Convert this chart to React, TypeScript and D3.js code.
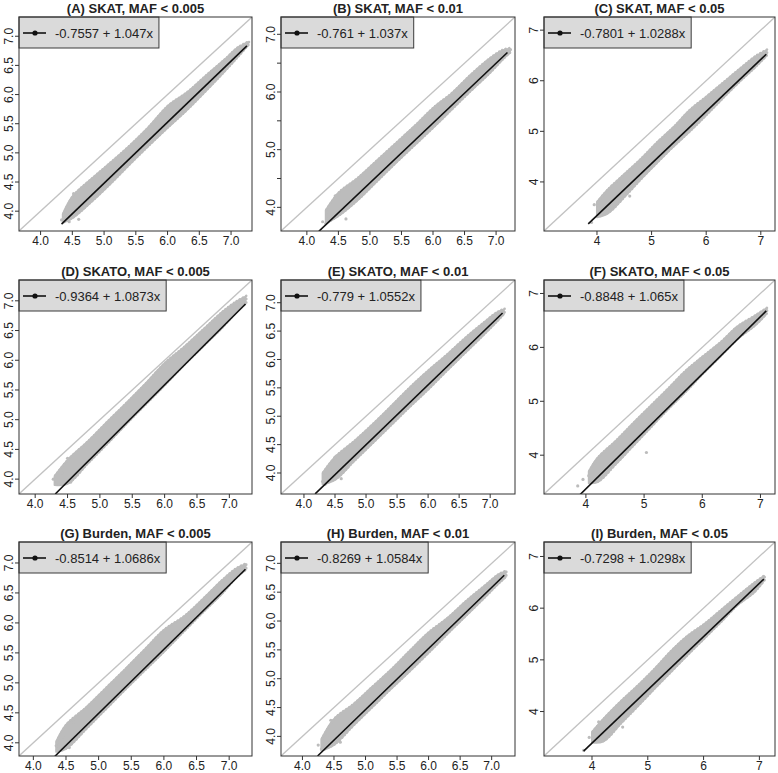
import React from "react";
import * as d3 from "d3";

// ---------- data ----------
const panelTitles = [
  "(A) SKAT, MAF < 0.005",
  "(B) SKAT, MAF < 0.01",
  "(C) SKAT, MAF < 0.05",
  "(D) SKATO, MAF < 0.005",
  "(E) SKATO, MAF < 0.01",
  "(F) SKATO, MAF < 0.05",
  "(G) Burden, MAF < 0.005",
  "(H) Burden, MAF < 0.01",
  "(I) Burden, MAF < 0.05",
];
const legendLabels = [
  "-0.7557 + 1.047x",
  "-0.761 + 1.037x",
  "-0.7801 + 1.0288x",
  "-0.9364 + 1.0873x",
  "-0.779 + 1.0552x",
  "-0.8848 + 1.065x",
  "-0.8514 + 1.0686x",
  "-0.8269 + 1.0584x",
  "-0.7298 + 1.0298x",
];
const intercepts = [-0.7557, -0.761, -0.7801, -0.9364, -0.779, -0.8848, -0.8514, -0.8269, -0.7298];
const slopes = [1.047, 1.037, 1.0288, 1.0873, 1.0552, 1.065, 1.0686, 1.0584, 1.0298];
const fitStart = [4.33, 4.19, 3.84, 4.31, 4.18, 3.9, 4.33, 4.24, 3.85];
const fitEnd = [7.25, 7.18, 7.1, 7.25, 7.2, 7.1, 7.25, 7.2, 7.08];
const axisMin = [3.66, 3.59, 3.03, 3.75, 3.63, 3.28, 3.78, 3.66, 3.14];
const axisMax = [7.33, 7.3, 7.26, 7.35, 7.4, 7.25, 7.35, 7.37, 7.28];

const halfTicks = [4.0, 4.5, 5.0, 5.5, 6.0, 6.5, 7.0];
const unitTicks = [4, 5, 6, 7];
const xTickSets = [halfTicks, halfTicks, unitTicks, halfTicks, halfTicks, unitTicks, halfTicks, halfTicks, unitTicks];
const yTickSets = [halfTicks, halfTicks, unitTicks, halfTicks, halfTicks, unitTicks, halfTicks, halfTicks, unitTicks];
const yLabelSets = [
  ["4.0", "4.5", "5.0", "5.5", "6.0", "6.5", "7.0"],
  ["4.0", "", "5.0", "", "6.0", "", "7.0"],
  ["4", "5", "6", "7"],
  ["4.0", "4.5", "5.0", "5.5", "6.0", "6.5", "7.0"],
  ["4.0", "4.5", "5.0", "5.5", "6.0", "6.5", "7.0"],
  ["4", "5", "6", "7"],
  ["4.0", "4.5", "5.0", "5.5", "6.0", "6.5", "7.0"],
  ["4.0", "4.5", "5.0", "5.5", "6.0", "6.5", "7.0"],
  ["4", "5", "6", "7"],
];
const xLabelSets = [
  ["4.0", "4.5", "5.0", "5.5", "6.0", "6.5", "7.0"],
  ["4.0", "4.5", "5.0", "5.5", "6.0", "6.5", "7.0"],
  ["4", "5", "6", "7"],
  ["4.0", "4.5", "5.0", "5.5", "6.0", "6.5", "7.0"],
  ["4.0", "4.5", "5.0", "5.5", "6.0", "6.5", "7.0"],
  ["4", "5", "6", "7"],
  ["4.0", "4.5", "5.0", "5.5", "6.0", "6.5", "7.0"],
  ["4.0", "4.5", "5.0", "5.5", "6.0", "6.5", "7.0"],
  ["4", "5", "6", "7"],
];

// point cloud envelope (x, lower edge, upper edge)
const bandX = [
  [4.35, 4.5, 4.8, 5.1, 5.4, 5.7, 6.0, 6.3, 6.6, 6.9, 7.1, 7.27],
  [4.3, 4.5, 4.8, 5.1, 5.4, 5.7, 6.0, 6.3, 6.6, 6.9, 7.1, 7.22],
  [4.0, 4.2, 4.5, 4.8, 5.1, 5.4, 5.7, 6.0, 6.3, 6.6, 6.9, 7.1],
  [4.3, 4.5, 4.8, 5.1, 5.4, 5.7, 6.0, 6.3, 6.6, 6.9, 7.1, 7.25],
  [4.3, 4.5, 4.8, 5.1, 5.4, 5.7, 6.0, 6.3, 6.6, 6.9, 7.1, 7.22],
  [4.05, 4.2, 4.5, 4.8, 5.1, 5.4, 5.7, 6.0, 6.3, 6.6, 6.9, 7.1],
  [4.35, 4.5, 4.8, 5.1, 5.4, 5.7, 6.0, 6.3, 6.6, 6.9, 7.1, 7.25],
  [4.3, 4.5, 4.8, 5.1, 5.4, 5.7, 6.0, 6.3, 6.6, 6.9, 7.1, 7.22],
  [4.0, 4.2, 4.5, 4.8, 5.1, 5.4, 5.7, 6.0, 6.3, 6.6, 6.9, 7.08],
];
const bandHi = [
  [3.95, 4.25, 4.55, 4.83, 5.12, 5.44, 5.8, 6.03, 6.32, 6.6, 6.8, 6.9],
  [3.95, 4.25, 4.5, 4.8, 5.1, 5.4, 5.72, 5.98, 6.3, 6.58, 6.72, 6.75],
  [3.6, 3.85, 4.15, 4.45, 4.78, 5.08, 5.42, 5.68, 5.95, 6.22, 6.48, 6.6],
  [4.05, 4.32, 4.62, 4.95, 5.27, 5.6, 5.95, 6.22, 6.52, 6.82, 6.98, 7.07],
  [4.0, 4.28, 4.55, 4.85, 5.17, 5.5, 5.8, 6.08, 6.38, 6.65, 6.82, 6.88],
  [3.7, 3.95, 4.25, 4.58, 4.9, 5.22, 5.55, 5.82, 6.08, 6.38, 6.58, 6.72],
  [4.02, 4.3, 4.58, 4.9, 5.22, 5.55, 5.88, 6.1, 6.4, 6.72, 6.9, 6.98],
  [3.95, 4.3, 4.55, 4.85, 5.15, 5.48, 5.8, 6.05, 6.35, 6.62, 6.8, 6.86],
  [3.6, 3.85, 4.18, 4.48, 4.8, 5.15, 5.45, 5.68, 5.95, 6.22, 6.48, 6.62],
];
const bandLo = [
  [3.8, 3.88, 4.16, 4.47, 4.8, 5.12, 5.43, 5.73, 6.06, 6.4, 6.64, 6.85],
  [3.72, 3.85, 4.12, 4.44, 4.76, 5.07, 5.38, 5.7, 6.02, 6.33, 6.56, 6.68],
  [3.3, 3.38, 3.7, 4.05, 4.38, 4.7, 5.0, 5.32, 5.65, 5.97, 6.27, 6.49],
  [3.9, 3.92, 4.25, 4.58, 4.92, 5.25, 5.58, 5.92, 6.24, 6.56, 6.8, 6.95],
  [3.8, 3.88, 4.2, 4.52, 4.84, 5.16, 5.47, 5.8, 6.12, 6.44, 6.66, 6.8],
  [3.48, 3.5, 3.82, 4.16, 4.5, 4.84, 5.16, 5.5, 5.82, 6.15, 6.4, 6.62],
  [3.85, 3.9, 4.22, 4.55, 4.88, 5.2, 5.52, 5.85, 6.18, 6.5, 6.75, 6.88],
  [3.75, 3.85, 4.18, 4.5, 4.82, 5.13, 5.45, 5.78, 6.1, 6.42, 6.64, 6.76],
  [3.4, 3.42, 3.75, 4.08, 4.42, 4.75, 5.08, 5.4, 5.72, 6.05, 6.3, 6.53],
];
// isolated points at the sparse low end of each cloud
const strayX = [
  [4.33, 4.38, 4.45, 4.6, 4.52],
  [4.25, 4.3, 4.36, 4.45, 4.62],
  [3.9, 3.95, 4.05, 4.1, 4.6],
  [4.28, 4.33, 4.42, 4.55, 4.5],
  [4.3, 4.34, 4.42, 4.5, 4.6],
  [3.86, 3.95, 4.05, 4.15, 5.04],
  [4.35, 4.4, 4.45, 4.55, 4.62],
  [4.25, 4.3, 4.38, 4.45, 4.6],
  [3.85, 3.95, 4.05, 4.12, 4.55],
];
const strayY = [
  [3.85, 3.93, 3.82, 3.86, 4.3],
  [3.75, 3.72, 4.0, 4.2, 3.8],
  [3.2, 3.55, 3.45, 3.72, 3.72],
  [4.0, 3.95, 4.1, 3.95, 4.35],
  [3.85, 3.8, 4.05, 4.28, 3.9],
  [3.43, 3.55, 3.62, 3.85, 4.05],
  [3.95, 3.88, 4.1, 3.92, 4.35],
  [3.85, 3.78, 4.0, 4.28, 3.9],
  [3.25, 3.5, 3.62, 3.8, 3.7],
];

// ---------- layout ----------
const W = 778;
const H = 773;
const colLeft = [19, 281, 544];
const colRight = [252, 515, 775];
const rowTop = [17, 280, 542];
const rowBottom = [231, 494, 756];
const FONT = "'Liberation Sans', Arial, Helvetica, sans-serif";
const cloudColor = "#bcbcbc";
const diagColor = "#c2c2c2";
const inkColor = "#222";

function measure(text: string, size: number): number {
  try {
    const c = document.createElement("canvas");
    const ctx = c.getContext("2d");
    if (ctx) {
      ctx.font = `${size}px 'Liberation Sans', Arial, sans-serif`;
      return ctx.measureText(text).width;
    }
  } catch (e) {}
  return text.length * size * 0.55;
}

function Panel({ i }: { i: number }) {
  const col = i % 3;
  const row = Math.floor(i / 3);
  const left = colLeft[col];
  const right = colRight[col];
  const top = rowTop[row];
  const bottom = rowBottom[row];
  const x = d3.scaleLinear().domain([axisMin[i], axisMax[i]]).range([left, right]);
  const y = d3.scaleLinear().domain([axisMin[i], axisMax[i]]).range([bottom, top]);
  const clipId = `clip${i}`;

  const band = bandX[i].map((bx, k) => ({ x: bx, lo: bandLo[i][k], hi: bandHi[i][k] }));
  const area = d3
    .area<{ x: number; lo: number; hi: number }>()
    .x((d) => x(d.x))
    .y0((d) => y(d.lo))
    .y1((d) => y(d.hi))
    .curve(d3.curveCatmullRom.alpha(0.5));
  const areaPath = area(band) || "";

  const fit = (v: number) => intercepts[i] + slopes[i] * v;
  const fitLine = d3.line<number>().x((v) => x(v)).y((v) => y(fit(v)))([fitStart[i], fitEnd[i]]) || "";
  const diag = d3.line<number>().x((v) => x(v)).y((v) => y(v))([axisMin[i], axisMax[i]]) || "";

  const label = legendLabels[i];
  const tw = measure(label, 13);
  const legW = 36 + tw + 6;
  const legH = 31;

  return (
    <g>
      <defs>
        <clipPath id={clipId}>
          <rect x={left} y={top} width={right - left} height={bottom - top} />
        </clipPath>
      </defs>
      <text
        x={(left + right) / 2}
        y={top - 4.5}
        textAnchor="middle"
        fontFamily={FONT}
        fontWeight="bold"
        fontSize={13}
        fill={inkColor}
      >
        {panelTitles[i]}
      </text>
      <g clipPath={`url(#${clipId})`}>
        <path d={areaPath} fill={cloudColor} stroke={cloudColor} strokeWidth={2} strokeLinejoin="round" />
        <path
          d={areaPath}
          fill="none"
          stroke={cloudColor}
          strokeWidth={2.6}
          strokeDasharray="0.1 3.4"
          strokeLinecap="round"
          transform="translate(0.8,-0.8)"
        />
        {strayX[i].map((sx, k) => (
          <circle key={k} cx={x(sx)} cy={y(strayY[i][k])} r={1.6} fill={cloudColor} />
        ))}
        <path d={diag} stroke={diagColor} strokeWidth={1.3} fill="none" />
        <path d={fitLine} stroke="#111" strokeWidth={1.6} fill="none" />
      </g>
      {/* legend */}
      <rect x={left} y={top} width={legW} height={legH} fill="#dadada" stroke="#3a3a3a" strokeWidth={1} />
      <line x1={left + 4} x2={left + 27} y1={top + 16} y2={top + 16} stroke="#111" strokeWidth={1.6} />
      <circle cx={left + 16} cy={top + 16} r={2.6} fill="#111" />
      <text x={left + 36} y={top + 20.5} fontFamily={FONT} fontSize={13} fill={inkColor}>
        {label}
      </text>
      {/* box */}
      <rect x={left} y={top} width={right - left} height={bottom - top} fill="none" stroke="#333" strokeWidth={1} />
      {/* x axis */}
      {xTickSets[i].map((t, k) => (
        <g key={`xt${k}`}>
          <line x1={x(t)} x2={x(t)} y1={bottom} y2={bottom + 4} stroke="#333" />
          <text x={x(t)} y={bottom + 14} textAnchor="middle" fontFamily={FONT} fontSize={12} fill={inkColor}>
            {xLabelSets[i][k]}
          </text>
        </g>
      ))}
      {/* y axis */}
      {yTickSets[i].map((t, k) => (
        <g key={`yt${k}`}>
          <line x1={left - 4} x2={left} y1={y(t)} y2={y(t)} stroke="#333" />
          {yLabelSets[i][k] ? (
            <text
              transform={`translate(${left - 6},${y(t)}) rotate(-90)`}
              textAnchor="middle"
              fontFamily={FONT}
              fontSize={12}
              fill={inkColor}
            >
              {yLabelSets[i][k]}
            </text>
          ) : null}
        </g>
      ))}
    </g>
  );
}

export default function App() {
  return (
    <svg
      width={W}
      height={H}
      viewBox={`0 0 ${W} ${H}`}
      style={{ position: "absolute", left: 0, top: 0, background: "#fff" }}
    >
      <rect x={0} y={0} width={W} height={H} fill="#fff" />
      {panelTitles.map((_, i) => (
        <Panel key={i} i={i} />
      ))}
    </svg>
  );
}
